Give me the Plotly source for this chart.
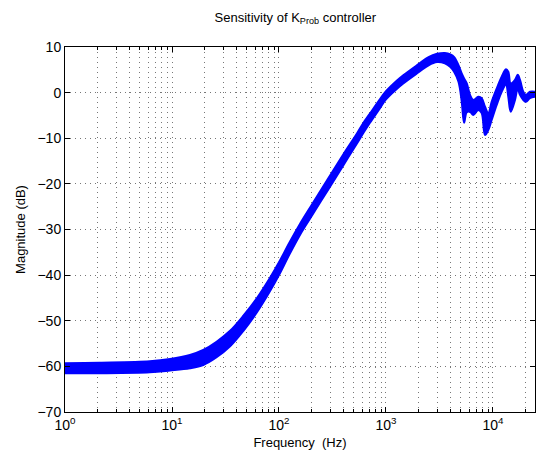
import math
import plotly.graph_objects as go

# Sensitivity magnitude envelope over the set of plant models
freq_hz = [1, 2.1, 6.2, 9.6, 14.7, 19.6, 26.1, 34.9, 46.5, 62, 82.5, 100, 125,
           157, 200, 289, 400, 537, 612, 708, 850, 1000, 1260, 1450, 2000,
           2500, 3000, 3550, 4000, 4340, 4760, 5100, 5370, 5690, 6100, 6550,
           7290, 7840, 8420, 9040, 9720, 10830, 12060, 13220, 13900, 14640,
           16060, 17020, 17880, 19200, 20330, 22170, 24700]
mag_upper_db = [-59.3, -59.2, -58.9, -58.4, -57.5, -56.4, -54.6, -52.2, -48.9,
                -45.1, -40.6, -37.2, -32.9, -28.8, -24.8, -18.8, -13.5, -8.9,
                -6.7, -4.6, -1.9, 0.3, 2.6, 3.8, 6.2, 7.8, 8.5, 8.7, 8.4, 7.8,
                6.0, 4.2, 3.1, 2.0, -0.5, -1.6, -0.9, -1.2, -3.1, -4.5, -2.0,
                0.9, 3.5, 5.1, 4.6, 2.0, 2.8, 3.9, 2.8, 0.2, -0.5, 0.2, 0.2]
mag_lower_db = [-61.5, -61.5, -61.3, -60.9, -60.4, -59.7, -58.0, -55.6, -52.2,
                -48.2, -43.5, -40.0, -35.5, -31.2, -27.2, -21.2, -15.9, -11.1,
                -8.9, -6.6, -3.9, -1.5, 0.8, 2.0, 4.4, 6.0, 6.7, 6.4, 5.6, 4.5,
                2.4, -1.9, -6.6, -4.3, -4.2, -4.9, -3.8, -4.5, -9.3, -8.2,
                -6.0, -2.7, 0.2, 1.7, -0.9, -4.2, -1.6, 0.9, -0.5, -1.6, -2.0,
                -1.2, -0.9]

decade_ticks = [1, 10, 100, 1000, 10000]
decade_labels = ["10<sup>0</sup>", "10<sup>1</sup>", "10<sup>2</sup>",
                 "10<sup>3</sup>", "10<sup>4</sup>"]
mag_ticks = [-70, -60, -50, -40, -30, -20, -10, 0, 10]

BLUE = "#0000ff"
GRID = "#777777"
GRID_DASH = "1px,4px"
FONT = "Liberation Sans, Arial, Helvetica, sans-serif"

fig = go.Figure()
fig.add_trace(go.Scatter(
    x=freq_hz, y=mag_lower_db, mode="lines",
    line=dict(color=BLUE, width=2, shape="spline", smoothing=1.0),
    showlegend=False, hoverinfo="skip"))
fig.add_trace(go.Scatter(
    x=freq_hz, y=mag_upper_db, mode="lines",
    line=dict(color=BLUE, width=2, shape="spline", smoothing=1.0),
    fill="tonexty", fillcolor=BLUE, showlegend=False, hoverinfo="skip"))

fig.update_layout(
    width=537, height=462,
    margin=dict(l=65, r=2, t=47, b=50),
    paper_bgcolor="white", plot_bgcolor="white",
    font=dict(family=FONT, color="black", size=13),
    title=dict(text="Sensitivity of K<sub>Prob</sub> controller",
               x=0.55, xanchor="center", y=1 - 17 / 462, yanchor="middle",
               font=dict(size=13)),
)

fig.update_xaxes(
    type="log", range=[0, math.log10(24700)],
    tickvals=decade_ticks, ticktext=decade_labels,
    tickfont=dict(size=14),
    ticks="inside", ticklen=5, tickcolor="black",
    showline=True, linecolor="black", linewidth=1, mirror="ticks",
    showgrid=True, gridcolor=GRID, griddash=GRID_DASH, gridwidth=1,
    minor=dict(dtick="D1", ticks="inside", ticklen=3, tickcolor="black",
               showgrid=True, gridcolor=GRID, griddash=GRID_DASH, gridwidth=1),
    zeroline=False,
    title=dict(text="Frequency\u00a0 (Hz)", font=dict(size=13), standoff=6),
)
fig.update_yaxes(
    range=[-70, 10], tickvals=mag_ticks,
    tickfont=dict(size=14),
    ticks="inside", ticklen=5, tickcolor="black",
    showline=True, linecolor="black", linewidth=1, mirror="ticks",
    showgrid=True, gridcolor=GRID, griddash=GRID_DASH, gridwidth=1,
    zeroline=False,
    title=dict(text="Magnitude (dB)", font=dict(size=13), standoff=8),
)

fig.write_html("out.html")
